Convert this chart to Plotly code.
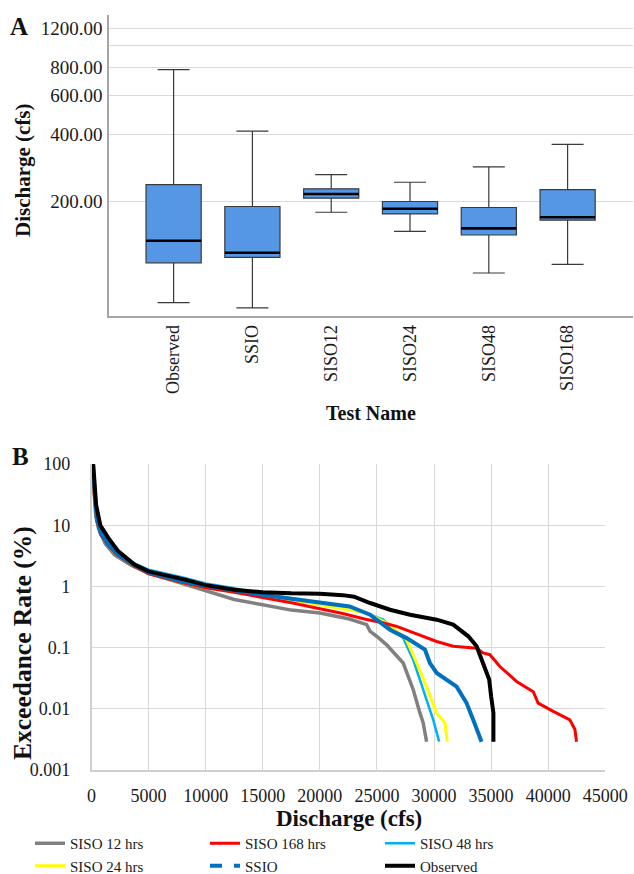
import plotly.graph_objects as go
import math

# ---------------- Panel A data (box statistics, cfs) ----------------
box_names = ["Observed", "SSIO", "SISO12", "SISO24", "SISO48", "SISO168"]
box_upper = [781, 413, 263, 243, 285, 360]
box_q3 = [237, 189, 227, 199, 187, 225]
box_median = [132.5, 117, 215, 184.6, 150.6, 169]
box_q1 = [105.4, 111.4, 206, 175, 140.6, 164]
box_lower = [69.7, 66, 178, 146, 94.8, 103.6]

a_tick_vals = [200, 400, 600, 800, 1000, 1200]
a_tick_text = ["200.00", "400.00", "600.00", "800.00", "", "1200.00"]

# ---------------- Panel B data (exceedance curves) ----------------
siso12_x = [80, 200, 350, 600, 1200, 2000, 3500, 5000, 8000, 10000, 12500, 15000, 17500, 20000,
            22600, 24100, 24400, 25000, 25850, 27300, 28180, 28770, 29050, 29350]
siso12_y = [100, 40, 16, 9, 5, 3.3, 2.2, 1.65, 1.1, 0.83, 0.61, 0.50, 0.41, 0.367,
            0.293, 0.237, 0.184, 0.152, 0.111, 0.056, 0.0205, 0.0085, 0.0059, 0.0029]

siso168_x = [90, 250, 450, 800, 1400, 2300, 3800, 5000, 8000, 10000, 12500, 15000, 17500, 20000,
             22000, 24000, 25500, 26730, 28180, 30230, 31680, 33730, 34300, 34890, 35770, 37230,
             38690, 39120, 40440, 41900, 42340, 42480]
siso168_y = [100, 30, 12, 7, 4.8, 3.2, 2.1, 1.6, 1.15, 0.95, 0.8, 0.66, 0.54, 0.43,
             0.36, 0.29, 0.255, 0.222, 0.174, 0.126, 0.105, 0.098, 0.082, 0.0766, 0.049, 0.028,
             0.019, 0.0124, 0.0091, 0.0066, 0.0046, 0.0029]

siso48_x = [120, 300, 500, 900, 1500, 2500, 3500, 5000, 8000, 10000, 12500, 15000, 17500, 20000,
            22600, 24000, 25550, 27300, 28180, 29050, 29930, 30450]
siso48_y = [100, 35, 14, 8, 5.5, 3.5, 2.5, 1.87, 1.4, 1.12, 0.93, 0.75, 0.64, 0.55,
            0.46, 0.37, 0.286, 0.143, 0.063, 0.0205, 0.0066, 0.0029]

siso24_x = [90, 250, 450, 800, 1400, 2300, 3800, 5000, 8000, 10000, 12400, 15000, 17500, 20000,
            22600, 24100, 26140, 27600, 28480, 29350, 30230, 30950, 31160]
siso24_y = [100, 30, 12, 7, 4.8, 3.2, 2.1, 1.62, 1.15, 0.95, 0.83, 0.69, 0.58, 0.50,
            0.415, 0.367, 0.237, 0.134, 0.056, 0.023, 0.0085, 0.0059, 0.0029]

ssio_x = [100, 250, 450, 800, 1400, 2300, 3800, 5000, 8000, 9500, 12500, 15000, 17500, 20000,
          22600, 24400, 26140, 27600, 29200, 29640, 30230, 31980, 32850, 33430, 34160]
ssio_y = [100, 35, 13, 7.5, 5, 3.3, 2.2, 1.7, 1.2, 1.06, 0.85, 0.73, 0.63, 0.55,
          0.47, 0.345, 0.196, 0.143, 0.093, 0.056, 0.0385, 0.023, 0.0124, 0.0066, 0.0029]

obs_x = [100, 160, 400, 770, 1470, 2350, 3800, 5000, 8200, 10000, 12500, 15000, 17500, 20000,
         22000, 23000, 24400, 26140, 27900, 30230, 31680, 33000, 33730, 34300, 34830, 35000,
         35200, 35200]
obs_y = [100, 95, 21.6, 10, 6.2, 3.73, 2.26, 1.76, 1.29, 1.05, 0.88, 0.8, 0.77, 0.76,
         0.72, 0.68, 0.535, 0.416, 0.345, 0.286, 0.237, 0.153, 0.105, 0.056, 0.03, 0.016,
         0.0086, 0.0029]

b_x_ticks = [0, 5000, 10000, 15000, 20000, 25000, 30000, 35000, 40000, 45000]
b_y_ticks = [0.001, 0.01, 0.1, 1, 10, 100]
b_y_text = ["0.001", "0.01", "0.1", "1", "10", "100"]

# ---------------- figure ----------------
W, H = 634, 874
FONT = "Liberation Serif"
fig = go.Figure()

positions = list(range(len(box_names)))
BOXGAP = 0.3
fig.add_trace(go.Box(
    x=positions, q1=box_q1, median=box_median, q3=box_q3,
    lowerfence=box_lower, upperfence=box_upper,
    fillcolor="#5597E4", line=dict(color="#3a3a3a", width=1.2),
    whiskerwidth=0.58, boxpoints=False, showlegend=False, hoverinfo="skip",
    xaxis="x", yaxis="y"))

# median lines (black, thicker)
half = (1 - BOXGAP) / 2
mx, my = [], []
for p, m in zip(positions, box_median):
    mx += [p - half, p + half, None]
    my += [m, m, None]
fig.add_trace(go.Scatter(x=mx, y=my, mode="lines", line=dict(color="black", width=2.6),
                         showlegend=False, hoverinfo="skip", xaxis="x", yaxis="y"))

# exceedance curves (draw order bottom->top)
curves = [
    ("SISO 12 hrs", siso12_x, siso12_y, "#808080", 3.5, 1),
    ("SISO 48 hrs", siso48_x, siso48_y, "#00B0F0", 2.5, 3),
    ("SISO 24 hrs", siso24_x, siso24_y, "#FFFF00", 3, 4),
    ("SISO 168 hrs", siso168_x, siso168_y, "#FF0000", 3, 2),
    ("SSIO", ssio_x, ssio_y, "#0070C0", 4, 5),
    ("Observed", obs_x, obs_y, "#000000", 4, 6),
]
for name, xs, ys, col, w, rank in curves:
    if name == "SSIO":
        fig.add_trace(go.Scatter(x=xs, y=ys, mode="lines", line=dict(color=col, width=w),
                                 showlegend=False, xaxis="x2", yaxis="y2"))
        fig.add_trace(go.Scatter(x=[None], y=[None], mode="lines", name=name,
                                 line=dict(color=col, width=w, dash="dash"),
                                 legendrank=rank, xaxis="x2", yaxis="y2"))
    else:
        fig.add_trace(go.Scatter(x=xs, y=ys, mode="lines", name=name,
                                 line=dict(color=col, width=w), legendrank=rank,
                                 xaxis="x2", yaxis="y2"))


def px_x(p):
    return p / W


def px_y(p):
    return 1 - p / H


a_range = [math.log10(60.7), math.log10(1377)]

fig.update_layout(
    width=W, height=H, margin=dict(l=0, r=0, t=0, b=0, autoexpand=False),
    paper_bgcolor="white", plot_bgcolor="white",
    font=dict(family=FONT, color="#1a1a1a"),
    boxgap=BOXGAP, boxgroupgap=0,
    xaxis=dict(domain=[px_x(109), px_x(633)], range=[-0.82, 5.83],
               tickvals=positions, ticktext=box_names, tickangle=-90,
               tickfont=dict(size=18, family=FONT, color="#1a1a1a"),
               showgrid=False, zeroline=False, showline=True, linecolor="#a6a6a6",
               linewidth=1.5, ticks="", anchor="y"),
    yaxis=dict(domain=[px_y(316), px_y(15)], type="log", range=a_range,
               tickvals=a_tick_vals, ticktext=a_tick_text,
               tickfont=dict(size=19, family=FONT, color="#1a1a1a"),
               showgrid=True, gridcolor="#d9d9d9", gridwidth=1.2, zeroline=False,
               showline=True, linecolor="#a6a6a6", linewidth=1.5,
               ticks="outside", ticklen=1, tickcolor="rgba(0,0,0,0)", anchor="x"),
    xaxis2=dict(domain=[px_x(91.5), px_x(605.3)], range=[0, 45000],
                tickvals=b_x_ticks, ticktext=[str(v) for v in b_x_ticks],
                tickfont=dict(size=18, family=FONT, color="#1a1a1a"),
                showgrid=True, gridcolor="#d9d9d9", gridwidth=1.2, zeroline=False,
                showline=True, linecolor="#cfcfcf", linewidth=1.5,
                ticks="outside", ticklen=9, tickcolor="rgba(0,0,0,0)",
                anchor="y2"),
    yaxis2=dict(domain=[px_y(770), px_y(464)], type="log", range=[-3, 2],
                tickvals=b_y_ticks, ticktext=b_y_text,
                tickfont=dict(size=18, family=FONT, color="#1a1a1a"),
                showgrid=True, gridcolor="#d9d9d9", gridwidth=1.2, zeroline=False,
                showline=True, linecolor="#cfcfcf", linewidth=1.5,
                ticks="outside", ticklen=16, tickcolor="rgba(0,0,0,0)", anchor="x2"),
    legend=dict(orientation="h", x=px_x(30), y=px_y(827), xanchor="left", yanchor="top",
                entrywidth=130, entrywidthmode="pixels", itemwidth=30,
                tracegroupgap=0,
                font=dict(size=15, family=FONT, color="#1a1a1a"),
                traceorder="normal", bgcolor="rgba(0,0,0,0)"),
    showlegend=True,
)

annots = [
    dict(text="<b>A</b>", x=px_x(19), y=px_y(26), size=25, angle=0),
    dict(text="<b>B</b>", x=px_x(20), y=px_y(456), size=25, angle=0),
    dict(text="<b>Discharge (cfs)</b>", x=px_x(23), y=px_y(170), size=21, angle=-90),
    dict(text="<b>Test Name</b>", x=px_x(371), y=px_y(413), size=20, angle=0),
    dict(text="<b>Exceedance Rate (%)</b>", x=px_x(22), y=px_y(643), size=25.5, angle=-90),
    dict(text="<b>Discharge (cfs)</b>", x=px_x(348.5), y=px_y(818), size=23, angle=0),
]
for a in annots:
    fig.add_annotation(text=a["text"], x=a["x"], y=a["y"], xref="paper", yref="paper",
                       xanchor="center", yanchor="middle", showarrow=False,
                       textangle=a["angle"],
                       font=dict(size=a["size"], family=FONT, color="#111111"))

fig.write_html("out.html", config={"displayModeBar": False},
               post_script="document.body.style.margin='0';document.body.style.padding='0';")
